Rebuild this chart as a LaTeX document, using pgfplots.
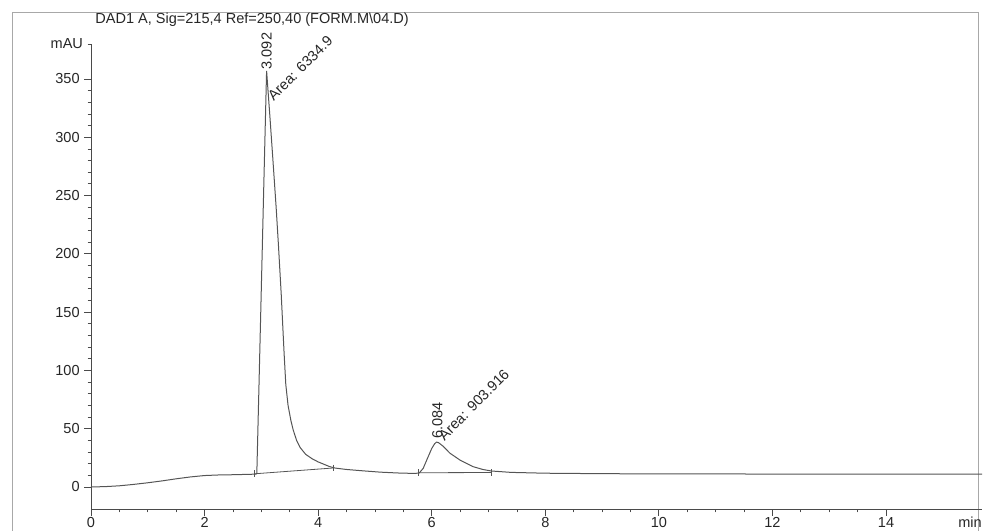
\documentclass[border=0pt]{standalone}
\usepackage{pgfplots}
\pgfplotsset{compat=1.18}
\usepackage{fontspec}
\setmainfont{Liberation Sans}

\definecolor{trace}{HTML}{555555}
\definecolor{axisgray}{HTML}{4A4A4A}
\definecolor{framegray}{HTML}{A8A8A8}

\newcommand{\lbl}{\fontsize{10.9}{12.5}\selectfont}

\begin{document}
\begin{tikzpicture}[x=1pt,y=1pt]
  \useasboundingbox (0,0) rectangle (738,398.25);
  % report frame
  \draw[framegray, line width=0.6pt] (9,-5) -- (9,389.25) -- (733.5,389.25) -- (733.5,-5);
  % signal header
  \node[anchor=base west, inner sep=0pt, text=black!85] at (71.3,380.5)
    {\lbl DAD1 A, Sig=215,4 Ref=250,40 (FORM.M\textbackslash 04.D)};

  \begin{axis}[
    at={(68.25pt,16.5pt)}, anchor=south west,
    scale only axis, width=668.25pt, height=348.75pt,
    xmin=0, xmax=15.69, ymin=-18.9, ymax=380,
    axis x line=bottom, axis y line=left,
    axis line style={axisgray, line width=0.6pt, -},
    tick align=outside,
    xtick={0,2,...,14}, ytick={0,50,...,350},
    minor x tick num=3, minor y tick num=4,
    extra y ticks={380}, extra y tick labels={mAU},
    extra y tick style={major tick length=2.5pt},
    extra x ticks={15.48}, extra x tick labels={min},
    extra x tick style={major tick style={draw=none}},
    major tick length=5pt, minor tick length=2.5pt,
    every tick/.style={axisgray, line width=0.6pt},
    tick label style={font=\lbl, text=black!85},
    xticklabel style={yshift=2.5pt},
    /pgf/number format/assume math mode=true,
    clip=false,
  ]
    % detector trace
    \addplot[trace, line width=0.75pt] coordinates {
      (0,0) (0.25,0.3) (0.5,1) (0.75,2.2) (1.0,3.6) (1.25,5.2) (1.5,7)
      (1.75,8.6) (2.0,9.8) (2.25,10.3) (2.5,10.5) (2.75,10.8) (2.9,11)
      (2.92,11.5) (2.96,91) (3.0,172) (3.04,253) (3.07,313) (3.092,357)
      (3.15,318) (3.2,283) (3.26,240) (3.3,208) (3.35,165) (3.4,115)
      (3.43,88) (3.47,70) (3.52,57) (3.56,49) (3.62,40) (3.68,34)
      (3.78,28) (3.9,24) (4.0,21.5) (4.1,19.5) (4.2,17.5) (4.3,16.2)
      (4.5,15) (4.8,13.8) (5.1,12.7) (5.4,12) (5.7,11.6) (5.78,12)
      (5.85,16) (5.92,24) (6.0,33) (6.05,37) (6.084,38.5) (6.12,38)
      (6.2,35) (6.32,29) (6.5,23) (6.73,17.4) (6.9,15) (7.05,13.7)
      (7.4,12.5) (8,11.8) (9,11.4) (10,11.2) (12,11.1) (14,11) (15.69,11)
    };
    % integration baselines
    \addplot[trace, line width=0.6pt, mark=|, mark size=2.5pt,
             mark options={solid, line width=0.6pt}] coordinates {(2.88,11.3) (4.27,16.3)};
    \addplot[trace, line width=0.6pt, mark=|, mark size=2.5pt,
             mark options={solid, line width=0.6pt}] coordinates {(5.76,12.2) (7.05,12.4)};
    % peak annotations
    \node[rotate=90, anchor=west, inner sep=1pt, font=\lbl, text=black!85]
      at (axis cs:3.092,357) {3.092};
    \node[rotate=45, anchor=south west, inner sep=0pt, font=\lbl, text=black!85]
      at (axis cs:3.22,330) {Area: 6334.9};
    \node[rotate=90, anchor=west, inner sep=1pt, font=\lbl, text=black!85]
      at (axis cs:6.10,40) {6.084};
    \node[rotate=45, anchor=south west, inner sep=0pt, font=\lbl, text=black!85]
      at (axis cs:6.23,39) {Area: 903.916};
  \end{axis}
\end{tikzpicture}
\end{document}
